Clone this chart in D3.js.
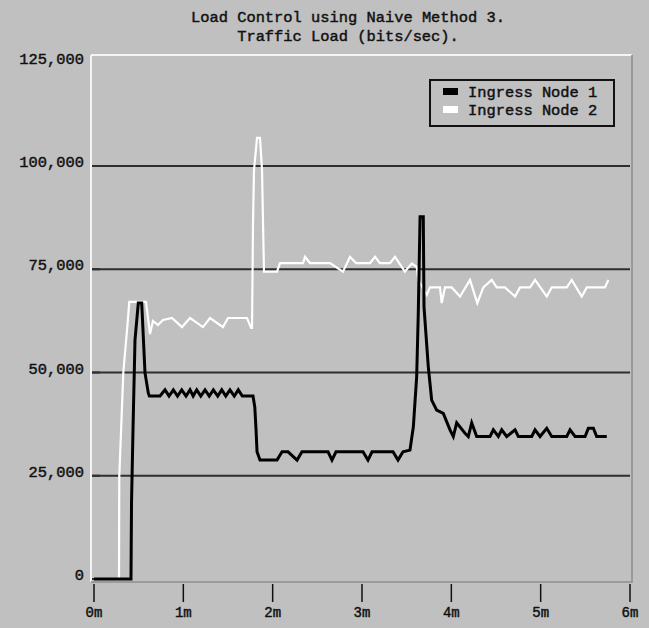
<!DOCTYPE html>
<html>
<head>
<meta charset="utf-8"/>
<script src="https://d3js.org/d3.v7.min.js"></script>
<style>
    body { margin: 0; background: #c0c0c0; }
    svg text { font-family: "Liberation Mono", "DejaVu Sans Mono", monospace; fill: #111; stroke: #111; stroke-width: 0.45px; }
</style>
</head>
<body>
<svg id="chart" width="649" height="628"></svg>
<script>
// title lines
let titleLines = ["Load Control using Naive Method 3.", "Traffic Load (bits/sec)."];
let seriesNames = ["Ingress Node 1", "Ingress Node 2"];
let yTicks = [0, 25000, 50000, 75000, 100000, 125000];
let gridTicks = [25000, 50000, 75000, 100000];
let xTicks = [0, 1, 2, 3, 4, 5, 6];

// Ingress Node 1 (black) : [minutes, bits/sec]
let node1 = [
    [0, 0], [0.414, 0], [0.42, 18400], [0.437, 36600], [0.459, 57900], [0.496, 66800],
    [0.534, 66800], [0.571, 49900], [0.608, 45000], [0.62, 44300], [0.739, 44300],
    [0.795, 45800], [0.84, 44300], [0.888, 45800], [0.935, 44300], [0.982, 45800],
    [1.03, 44300], [1.075, 45800], [1.11, 44300], [1.15, 45800], [1.195, 44300],
    [1.243, 45800], [1.29, 44300], [1.336, 45800], [1.385, 44300], [1.43, 45800],
    [1.475, 44300], [1.522, 45800], [1.57, 44300], [1.615, 45800], [1.66, 44300],
    [1.78, 44300], [1.8, 41600], [1.814, 36100], [1.825, 30800], [1.858, 28800],
    [2.049, 28800], [2.105, 30800], [2.172, 30800], [2.273, 28800], [2.328, 30800],
    [2.62, 30800], [2.664, 28800], [2.709, 30800], [3.011, 30800], [3.067, 28800],
    [3.112, 30800], [3.347, 30800], [3.403, 28800], [3.459, 30800], [3.537, 31200],
    [3.575, 36900], [3.612, 49000], [3.63, 64300], [3.65, 87700], [3.686, 87700],
    [3.694, 65900], [3.742, 51400], [3.78, 43300], [3.836, 40900], [3.91, 40100],
    [3.985, 36100], [4.022, 34500], [4.06, 37800], [4.153, 35300], [4.19, 34500],
    [4.228, 37800], [4.284, 34500], [4.433, 34500], [4.47, 36100], [4.526, 34500],
    [4.564, 36100], [4.62, 34500], [4.713, 36100], [4.75, 34500], [4.9, 34500],
    [4.937, 36100], [4.993, 34500], [5.068, 36500], [5.124, 34500], [5.292, 34500],
    [5.329, 36100], [5.385, 34500], [5.497, 34500], [5.534, 36500], [5.59, 36500],
    [5.627, 34500], [5.74, 34500]
];

// Ingress Node 2 (white)
let node2 = [
    [0, 0], [0.28, 0], [0.283, 24800], [0.328, 49900], [0.373, 61100], [0.395, 67100],
    [0.582, 67100], [0.627, 59300], [0.66, 62500], [0.716, 61500], [0.772, 62700],
    [0.873, 63200], [0.985, 61000], [1.075, 63200], [1.22, 61000], [1.299, 63200],
    [1.444, 61000], [1.5, 63200], [1.713, 63200], [1.758, 60800], [1.769, 60800],
    [1.78, 86200], [1.791, 99000], [1.825, 106800], [1.858, 106800], [1.881, 99000],
    [1.892, 86200], [1.903, 74400], [2.049, 74400], [2.082, 76500], [2.34, 76500],
    [2.362, 78000], [2.418, 76500], [2.642, 76500], [2.787, 74400], [2.866, 78000],
    [2.933, 76500], [3.09, 76500], [3.146, 78000], [3.2, 76500], [3.314, 76500],
    [3.37, 78000], [3.48, 74400], [3.557, 76400], [3.612, 75600], [3.63, 72400],
    [3.724, 68800], [3.761, 70600], [3.873, 70600], [3.892, 66800], [3.929, 70600],
    [4.004, 70600], [4.097, 68400], [4.209, 72400], [4.291, 66800], [4.358, 70600],
    [4.452, 72400], [4.508, 70600], [4.601, 70600], [4.713, 68400], [4.769, 70600],
    [4.881, 70600], [4.937, 72400], [5.068, 68400], [5.124, 70600], [5.292, 70600],
    [5.348, 72400], [5.46, 68400], [5.516, 70600], [5.72, 70600], [5.757, 72400]
];

let svg = d3.select("svg#chart");
let xScale = d3.scaleLinear().domain([0, 6]).range([94, 630]);
let yScale = d3.scaleLinear().domain([0, 125000]).range([579, 62.75]);

// plot frame (inset look: white top/left, darker grey bottom/right)
let frameL = 91, frameR = 632, frameT = 55, frameB = 582;
svg.append("line").attr("x1", frameL).attr("x2", frameR).attr("y1", frameT).attr("y2", frameT)
    .style("stroke", "#f4f4f4").style("stroke-width", 2);
svg.append("line").attr("x1", frameL).attr("x2", frameL).attr("y1", frameT).attr("y2", frameB)
    .style("stroke", "#f4f4f4").style("stroke-width", 2);
svg.append("line").attr("x1", frameL).attr("x2", frameR + 1).attr("y1", frameB).attr("y2", frameB)
    .style("stroke", "#9a9a9a").style("stroke-width", 2);
svg.append("line").attr("x1", frameR).attr("x2", frameR).attr("y1", frameT).attr("y2", frameB)
    .style("stroke", "#9a9a9a").style("stroke-width", 2);

// title
titleLines.forEach(function(t, i) {
    svg.append("text")
        .text(t)
        .attr("x", 348)
        .attr("y", 22 + i * 19)
        .attr("text-anchor", "middle")
        .style("font-size", "15.4px");
});

// gridlines
gridTicks.forEach(function(v) {
    svg.append("line")
        .attr("x1", 92).attr("x2", 630)
        .attr("y1", yScale(v)).attr("y2", yScale(v))
        .style("stroke", "#2e2e2e").style("stroke-width", 2);
});

// y labels + small ticks
yTicks.forEach(function(v) {
    svg.append("text")
        .text(d3.format(",")(v))
        .attr("x", 84)
        .attr("y", yScale(v) + 1)
        .attr("text-anchor", "end")
        .style("font-size", "15.4px");
    if (v < 125000) {
        svg.append("line")
            .attr("x1", 92).attr("x2", 100)
            .attr("y1", yScale(v)).attr("y2", yScale(v))
            .style("stroke", "#2e2e2e").style("stroke-width", 2);
    }
});

// x ticks + labels
xTicks.forEach(function(m) {
    svg.append("line")
        .attr("x1", xScale(m)).attr("x2", xScale(m))
        .attr("y1", 584).attr("y2", 602)
        .style("stroke", "#111").style("stroke-width", 1.5);
    svg.append("text")
        .text(m + "m")
        .attr("x", xScale(m))
        .attr("y", 617)
        .attr("text-anchor", "middle")
        .style("font-size", "14px");
});

let line = d3.line()
    .x(d => xScale(d[0]))
    .y(d => yScale(d[1]));

svg.append("path")
    .attr("d", line(node2))
    .style("fill", "none")
    .style("stroke", "#ffffff")
    .style("stroke-width", 2.2);

svg.append("path")
    .attr("d", line(node1))
    .style("fill", "none")
    .style("stroke", "#000000")
    .style("stroke-width", 3);

// legend
let legend = svg.append("g");
legend.append("rect")
    .attr("x", 430).attr("y", 80)
    .attr("width", 184).attr("height", 46)
    .style("fill", "none").style("stroke", "#111").style("stroke-width", 2);
let swatch = ["#000000", "#ffffff"];
seriesNames.forEach(function(name, i) {
    legend.append("rect")
        .attr("x", 443).attr("y", 88 + i * 18)
        .attr("width", 15).attr("height", 7)
        .style("fill", swatch[i]);
    legend.append("text")
        .text(name)
        .attr("x", 468)
        .attr("y", 97 + i * 18)
        .style("font-size", "15.4px");
});
</script>
</body>
</html>
